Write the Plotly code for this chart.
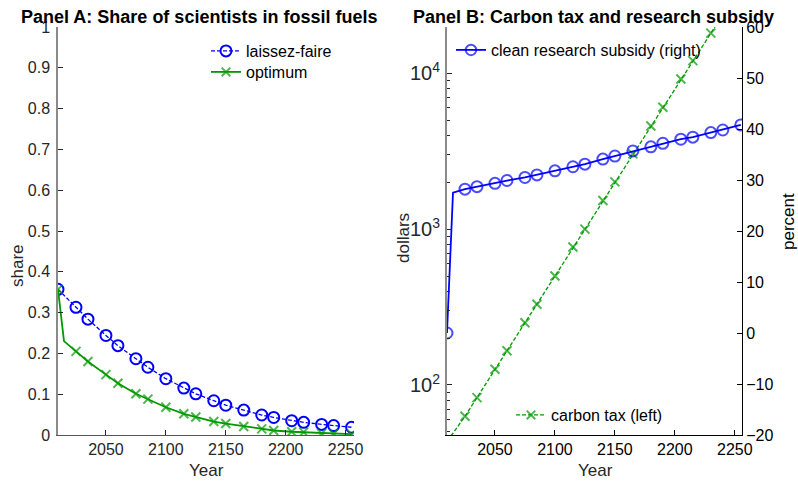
import plotly.graph_objects as go

# ---------------- data ----------------
years_a = [2010, 2025, 2035, 2050, 2060, 2075, 2085, 2100, 2115, 2125, 2140,
           2150, 2165, 2180, 2190, 2205, 2215, 2230, 2240, 2255]
laissez_faire = [0.357, 0.313, 0.284, 0.244, 0.219, 0.187, 0.166, 0.138, 0.115, 0.101,
                 0.084, 0.073, 0.061, 0.049, 0.043, 0.035, 0.031, 0.026, 0.023, 0.019]

years_opt = [2010, 2015, 2025, 2035, 2050, 2060, 2075, 2085, 2100, 2115, 2125, 2140,
             2150, 2165, 2180, 2190, 2205, 2215, 2230, 2240, 2255]
optimum = [0.357, 0.230, 0.205, 0.180, 0.148, 0.127, 0.101, 0.088, 0.068, 0.052, 0.044,
           0.033, 0.028, 0.021, 0.015, 0.011, 0.008, 0.007, 0.004, 0.003, 0.002]
opt_marked = [True, False] + [True] * 19

years_b = [2010, 2015, 2025, 2035, 2050, 2060, 2075, 2085, 2100, 2115, 2125, 2140,
           2150, 2165, 2180, 2190, 2205, 2215, 2230, 2240, 2255]
subsidy_pct = [0.0, 27.5, 28.2, 28.7, 29.35, 29.9, 30.5, 31.0, 31.8, 32.6, 33.1, 34.1,
               34.7, 35.7, 36.5, 37.2, 38.0, 38.4, 39.3, 39.8, 40.8]
carbon_tax = [44, 49, 63, 83, 126, 166, 251, 330, 500, 767, 1000, 1525,
              2010, 3040, 4590, 6050, 9180, 12050, 18100, 24000, 36000]
b_marked = [True, False] + [True] * 19

x_ticks = [2050, 2100, 2150, 2200, 2250]
share_ticks = [0, 0.1, 0.2, 0.3, 0.4, 0.5, 0.6, 0.7, 0.8, 0.9, 1]
share_labels = ["0", "0.1", "0.2", "0.3", "0.4", "0.5", "0.6", "0.7", "0.8", "0.9", "1"]
pct_ticks = [-20, -10, 0, 10, 20, 30, 40, 50, 60]

# ---------------- styling ----------------
W, H = 798, 483
FONT = "Liberation Sans, Arial, sans-serif"
BLUE = "#0000ff"
GREEN = "#009900"
DARK = "#262626"
GRAY = "#8a8a8a"

def px_x(p):
    return p / W

def px_y(p):
    return 1 - p / H

fig = go.Figure()

msize = 11
xsize = 9

fig.add_trace(go.Scatter(
    x=years_a, y=laissez_faire, mode="lines+markers", name="laissez-faire",
    line=dict(color=BLUE, width=1.3, dash="4px,2px"),
    marker=dict(symbol="circle-open", size=msize, color=BLUE, line=dict(width=2)),
    xaxis="x", yaxis="y", legend="legend"))
fig.add_trace(go.Scatter(
    x=years_opt, y=optimum, mode="lines+markers", name="optimum",
    line=dict(color=GREEN, width=1.8),
    marker=dict(symbol="x-thin-open", size=[xsize if m else 0 for m in opt_marked],
                color=GREEN, line=dict(width=2, color=GREEN)),
    xaxis="x", yaxis="y", legend="legend4"))

fig.add_trace(go.Scatter(
    x=years_b, y=carbon_tax, mode="lines+markers", name="carbon tax (left)",
    line=dict(color=GREEN, width=1.3, dash="4px,2px"),
    marker=dict(symbol="x-thin-open", size=[xsize if m else 0 for m in b_marked],
                color=GREEN, line=dict(width=2, color=GREEN)),
    xaxis="x2", yaxis="y2", legend="legend3"))
fig.add_trace(go.Scatter(
    x=years_b, y=subsidy_pct, mode="lines+markers", name="clean research subsidy (right)",
    line=dict(color=BLUE, width=1.8),
    marker=dict(symbol="circle-open", size=[msize if m else 0 for m in b_marked],
                color=BLUE, line=dict(width=2)),
    xaxis="x2", yaxis="y3", legend="legend2"))

ydom = [px_y(435), px_y(27)]
tickfont = dict(family=FONT, size=16, color=DARK)
tickfont_b = dict(family=FONT, size=16, color="#000000")
legfont = dict(family=FONT, size=16, color="#000000")

def leg(xp, yp):
    return dict(x=px_x(xp), y=px_y(yp), xanchor="left", yanchor="top",
                bgcolor="rgba(0,0,0,0)", font=legfont)

fig.update_layout(
    template="none",
    width=W, height=H,
    margin=dict(l=0, r=0, t=0, b=0, autoexpand=False),
    paper_bgcolor="white", plot_bgcolor="white",
    font=dict(family=FONT, size=16, color="#000000"),
    xaxis=dict(domain=[px_x(58), px_x(354)], range=[2010, 2257], tickvals=x_ticks,
               ticks="inside", ticklen=5, tickcolor=DARK, showline=True,
               linecolor="#555555", linewidth=1, showgrid=False, zeroline=False,
               tickfont=tickfont, anchor="y", automargin=False),
    yaxis=dict(domain=ydom, range=[0, 1], tickvals=share_ticks, ticktext=share_labels,
               ticks="inside", ticklen=5, tickcolor=DARK, showline=True,
               linecolor=GRAY, linewidth=1.5, showgrid=False, zeroline=False,
               tickfont=tickfont, anchor="x", ticklabelstandoff=3, automargin=False),
    xaxis2=dict(domain=[px_x(447), px_x(742)], range=[2010, 2256], tickvals=x_ticks,
                ticks="inside", ticklen=5, tickcolor="#000000", showline=True,
                linecolor="#000000", linewidth=1, showgrid=False, zeroline=False,
                tickfont=tickfont_b, anchor="y2", automargin=False),
    yaxis2=dict(domain=ydom, type="log", range=[1.679, 4.297], dtick=1,
                exponentformat="power", ticks="inside", ticklen=5, tickcolor=DARK,
                minor=dict(ticks="inside", ticklen=3, tickcolor=DARK, showgrid=False),
                showline=True, linecolor=GRAY, linewidth=1.5, showgrid=False,
                zeroline=False, tickfont=tickfont, anchor="x2", ticklabelstandoff=2,
                automargin=False),
    yaxis3=dict(domain=ydom, range=[-20, 60], tickvals=pct_ticks, side="right",
                overlaying="y2", ticks="inside", ticklen=5, tickcolor="#000000",
                showline=True, linecolor="#000000", linewidth=1, showgrid=False,
                zeroline=False, tickfont=tickfont_b, anchor="x2", automargin=False),
    legend=leg(206, 34),
    legend4=leg(206, 55),
    legend2=leg(451, 33),
    legend3=leg(511, 398),
    showlegend=True,
)

annots = [
    dict(text="<b>Panel A: Share of scientists in fossil fuels</b>", x=px_x(199), y=px_y(17),
         font=dict(size=18, color="#000000")),
    dict(text="<b>Panel B: Carbon tax and research subsidy</b>", x=px_x(593), y=px_y(17),
         font=dict(size=18, color="#000000")),
    dict(text="share", x=px_x(17), y=px_y(266), textangle=-90, font=dict(size=17, color=DARK)),
    dict(text="Year", x=px_x(206), y=px_y(470), font=dict(size=17, color=DARK)),
    dict(text="dollars", x=px_x(404), y=px_y(238), textangle=-90, font=dict(size=17, color=DARK)),
    dict(text="percent", x=px_x(788), y=px_y(222), textangle=-90, font=dict(size=17, color="#000000")),
    dict(text="Year", x=px_x(595), y=px_y(470), font=dict(size=17, color=DARK)),
]
for a in annots:
    a.update(xref="paper", yref="paper", showarrow=False, xanchor="center", yanchor="middle")
fig.update_layout(annotations=annots)

fig.write_html("out.html", config={"displayModeBar": False},
               post_script="document.body.style.margin='0px';")
